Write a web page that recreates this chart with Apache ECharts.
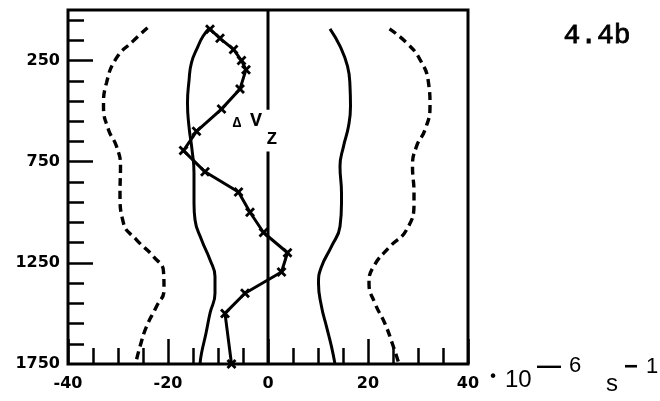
<!DOCTYPE html>
<html>
<head>
<meta charset="utf-8">
<script src="https://cdn.jsdelivr.net/npm/echarts@6/dist/echarts.min.js"></script>
<style>html,body{margin:0;padding:0;background:#fff;}#c{width:660px;height:401px;}</style>
</head>
<body>
<div id="c"></div>
<script>
// ---- data (x in 10^-6 s^-1, y = depth) ----
const xTickLabels = [-40, -20, 0, 20, 40];
const yTickLabels = [250, 750, 1250, 1750];
const yMinorTicks = [50,150,250,350,450,550,650,750,850,950,1050,1150,1250,1350,1450,1550,1650];
const yMajorTicks = [250, 750, 1250];

const leftDashed = [[-24.1,88],[-27,154],[-30.3,237],[-32.3,360],[-32.9,476],[-31.9,592],[-30.3,674],[-29.5,773],[-29.6,905],[-28.9,1054],[-26.3,1136],[-22.9,1219],[-20.9,1293],[-20.8,1384],[-22.3,1466],[-24.3,1565],[-25.6,1664],[-26.5,1750]];
const rightDashed = [[24.3,93],[27.7,162],[30.4,245],[32.1,360],[32.4,476],[31.4,592],[29.7,674],[28.9,773],[29.2,905],[29.2,955],[27.7,1087],[24.4,1169],[21.1,1269],[20.2,1351],[21.4,1450],[23.4,1551],[25.1,1666],[26.2,1750]];
const leftSolid = [[-11.8,92],[-13,130],[-14,180],[-15.3,260],[-15.8,350],[-16.1,460],[-15.8,577],[-15.2,690],[-14.8,806],[-14.8,955],[-14.6,1037],[-13.3,1136],[-11.6,1235],[-10.6,1318],[-10.6,1400],[-11.6,1499],[-12.4,1598],[-13.3,1697],[-13.6,1750]];
const rightSolid = [[12.4,93],[14.4,179],[15.9,278],[16.4,377],[16.5,476],[16.1,575],[15.1,674],[14.4,773],[14.7,905],[14.7,955],[14.4,1070],[12.7,1169],[10.7,1269],[10.1,1351],[10.7,1466],[11.7,1565],[12.7,1664],[13.4,1750]];
const deltaVz = [[-11.6,95],[-9.6,140],[-6.9,195],[-5.3,250],[-4.4,295],[-5.6,390],[-9.3,490],[-14.3,600],[-16.9,695],[-12.6,800],[-5.9,900],[-3.6,1000],[-0.9,1100],[3.9,1200],[2.7,1295],[-4.6,1400],[-8.6,1500],[-7.3,1750]];
const zeroLineTop = [[0,0],[0,493]];
const zeroLineBottom = [[0,699],[0,1750]];

const chart = echarts.init(document.getElementById('c'), null, {renderer:'canvas'});
const tickStyle = {color:'#000', width:2.5};
const lblFont = {color:'#000', fontFamily:'DejaVu Sans', fontWeight:'bold', fontSize:16, formatter: v => String(v)};
const crossPath = 'path://M0,2L2,0L5,3L8,0L10,2L7,5L10,8L8,10L5,7L2,10L0,8L3,5Z';
const noLine = {show:false, onZero:false};

const lineSeries = (data, type, smooth) => ({
  type:'line', data, xAxisIndex:0, yAxisIndex:0, showSymbol:false, symbol:'none',
  smooth: smooth, lineStyle:{color:'#000', width: type==='solid'?3:3.4, type: type==='solid'?'solid':[8,5]},
  silent:true, z:3
});
const txt = (x, y, text, font, align) => ({type:'text', x, y, style:{text, font, fill:'#000', textAlign:align||'left', textVerticalAlign:'middle'}});

chart.setOption({
  animation:false,
  backgroundColor:'#fff',
  grid:{left:68, right:192, top:10, bottom:37, show:true, borderColor:'#000', borderWidth:3, backgroundColor:'transparent'},
  xAxis:[
    {type:'value', min:-40, max:40, interval:5, position:'bottom',
     axisLine:noLine, splitLine:{show:false},
     axisTick:{show:true, inside:true, length:16, lineStyle:tickStyle},
     axisLabel:{show:false}},
    {type:'value', min:-40, max:40, interval:20, position:'bottom',
     axisLine:noLine, splitLine:{show:false},
     axisTick:{show:true, inside:true, length:25, lineStyle:tickStyle},
     axisLabel:Object.assign({show:true, margin:12, customValues:xTickLabels}, lblFont)}
  ],
  yAxis:[
    {type:'value', min:0, max:1750, inverse:true, position:'left',
     axisLine:noLine, splitLine:{show:false},
     axisTick:{show:true, inside:true, length:16, lineStyle:tickStyle, customValues:yMinorTicks},
     axisLabel:Object.assign({show:true, margin:8, customValues:yTickLabels}, lblFont)},
    {type:'value', min:0, max:1750, inverse:true, position:'left',
     axisLine:noLine, splitLine:{show:false},
     axisTick:{show:true, inside:true, length:25, lineStyle:tickStyle, customValues:yMajorTicks},
     axisLabel:{show:false}}
  ],
  series:[
    lineSeries(leftDashed,'dashed',0.5),
    lineSeries(rightDashed,'dashed',0.5),
    lineSeries(leftSolid,'solid',0.5),
    lineSeries(rightSolid,'solid',0.5),
    lineSeries(zeroLineTop,'solid',false),
    lineSeries(zeroLineBottom,'solid',false),
    {type:'line', data:deltaVz, xAxisIndex:0, yAxisIndex:0, symbol:crossPath, symbolSize:10, showSymbol:true,
     itemStyle:{color:'#000'}, lineStyle:{color:'#000', width:3}, silent:true, z:4}
  ],
  graphic:[
    txt(237, 123, 'Δ', 'bold 14px "Liberation Mono"', 'center'),
    txt(256, 121, 'V', 'bold 20px "Liberation Mono"', 'center'),
    txt(272, 139, 'Z', 'bold 18px "Liberation Mono"', 'center'),
    {type:'text', x:597, y:36, style:{text:'4.4b', font:'28px "Liberation Mono"', fill:'#000', stroke:'#000', lineWidth:0.8, textAlign:'center', textVerticalAlign:'middle'}},
    txt(493, 377, '•', 'bold 16px "Liberation Sans"', 'center'),
    txt(505, 380, '10', '24px "Liberation Sans"'),
    txt(537, 366, '—', 'bold 24px "Liberation Sans"'),
    txt(569, 366, '6', '22px "Liberation Sans"'),
    txt(606, 384, 's', '24px "Liberation Sans"'),
    txt(624, 367, '−', 'bold 24px "Liberation Sans"'),
    txt(646, 367, '1', '22px "Liberation Sans"')
  ]
});
</script>
</body>
</html>
